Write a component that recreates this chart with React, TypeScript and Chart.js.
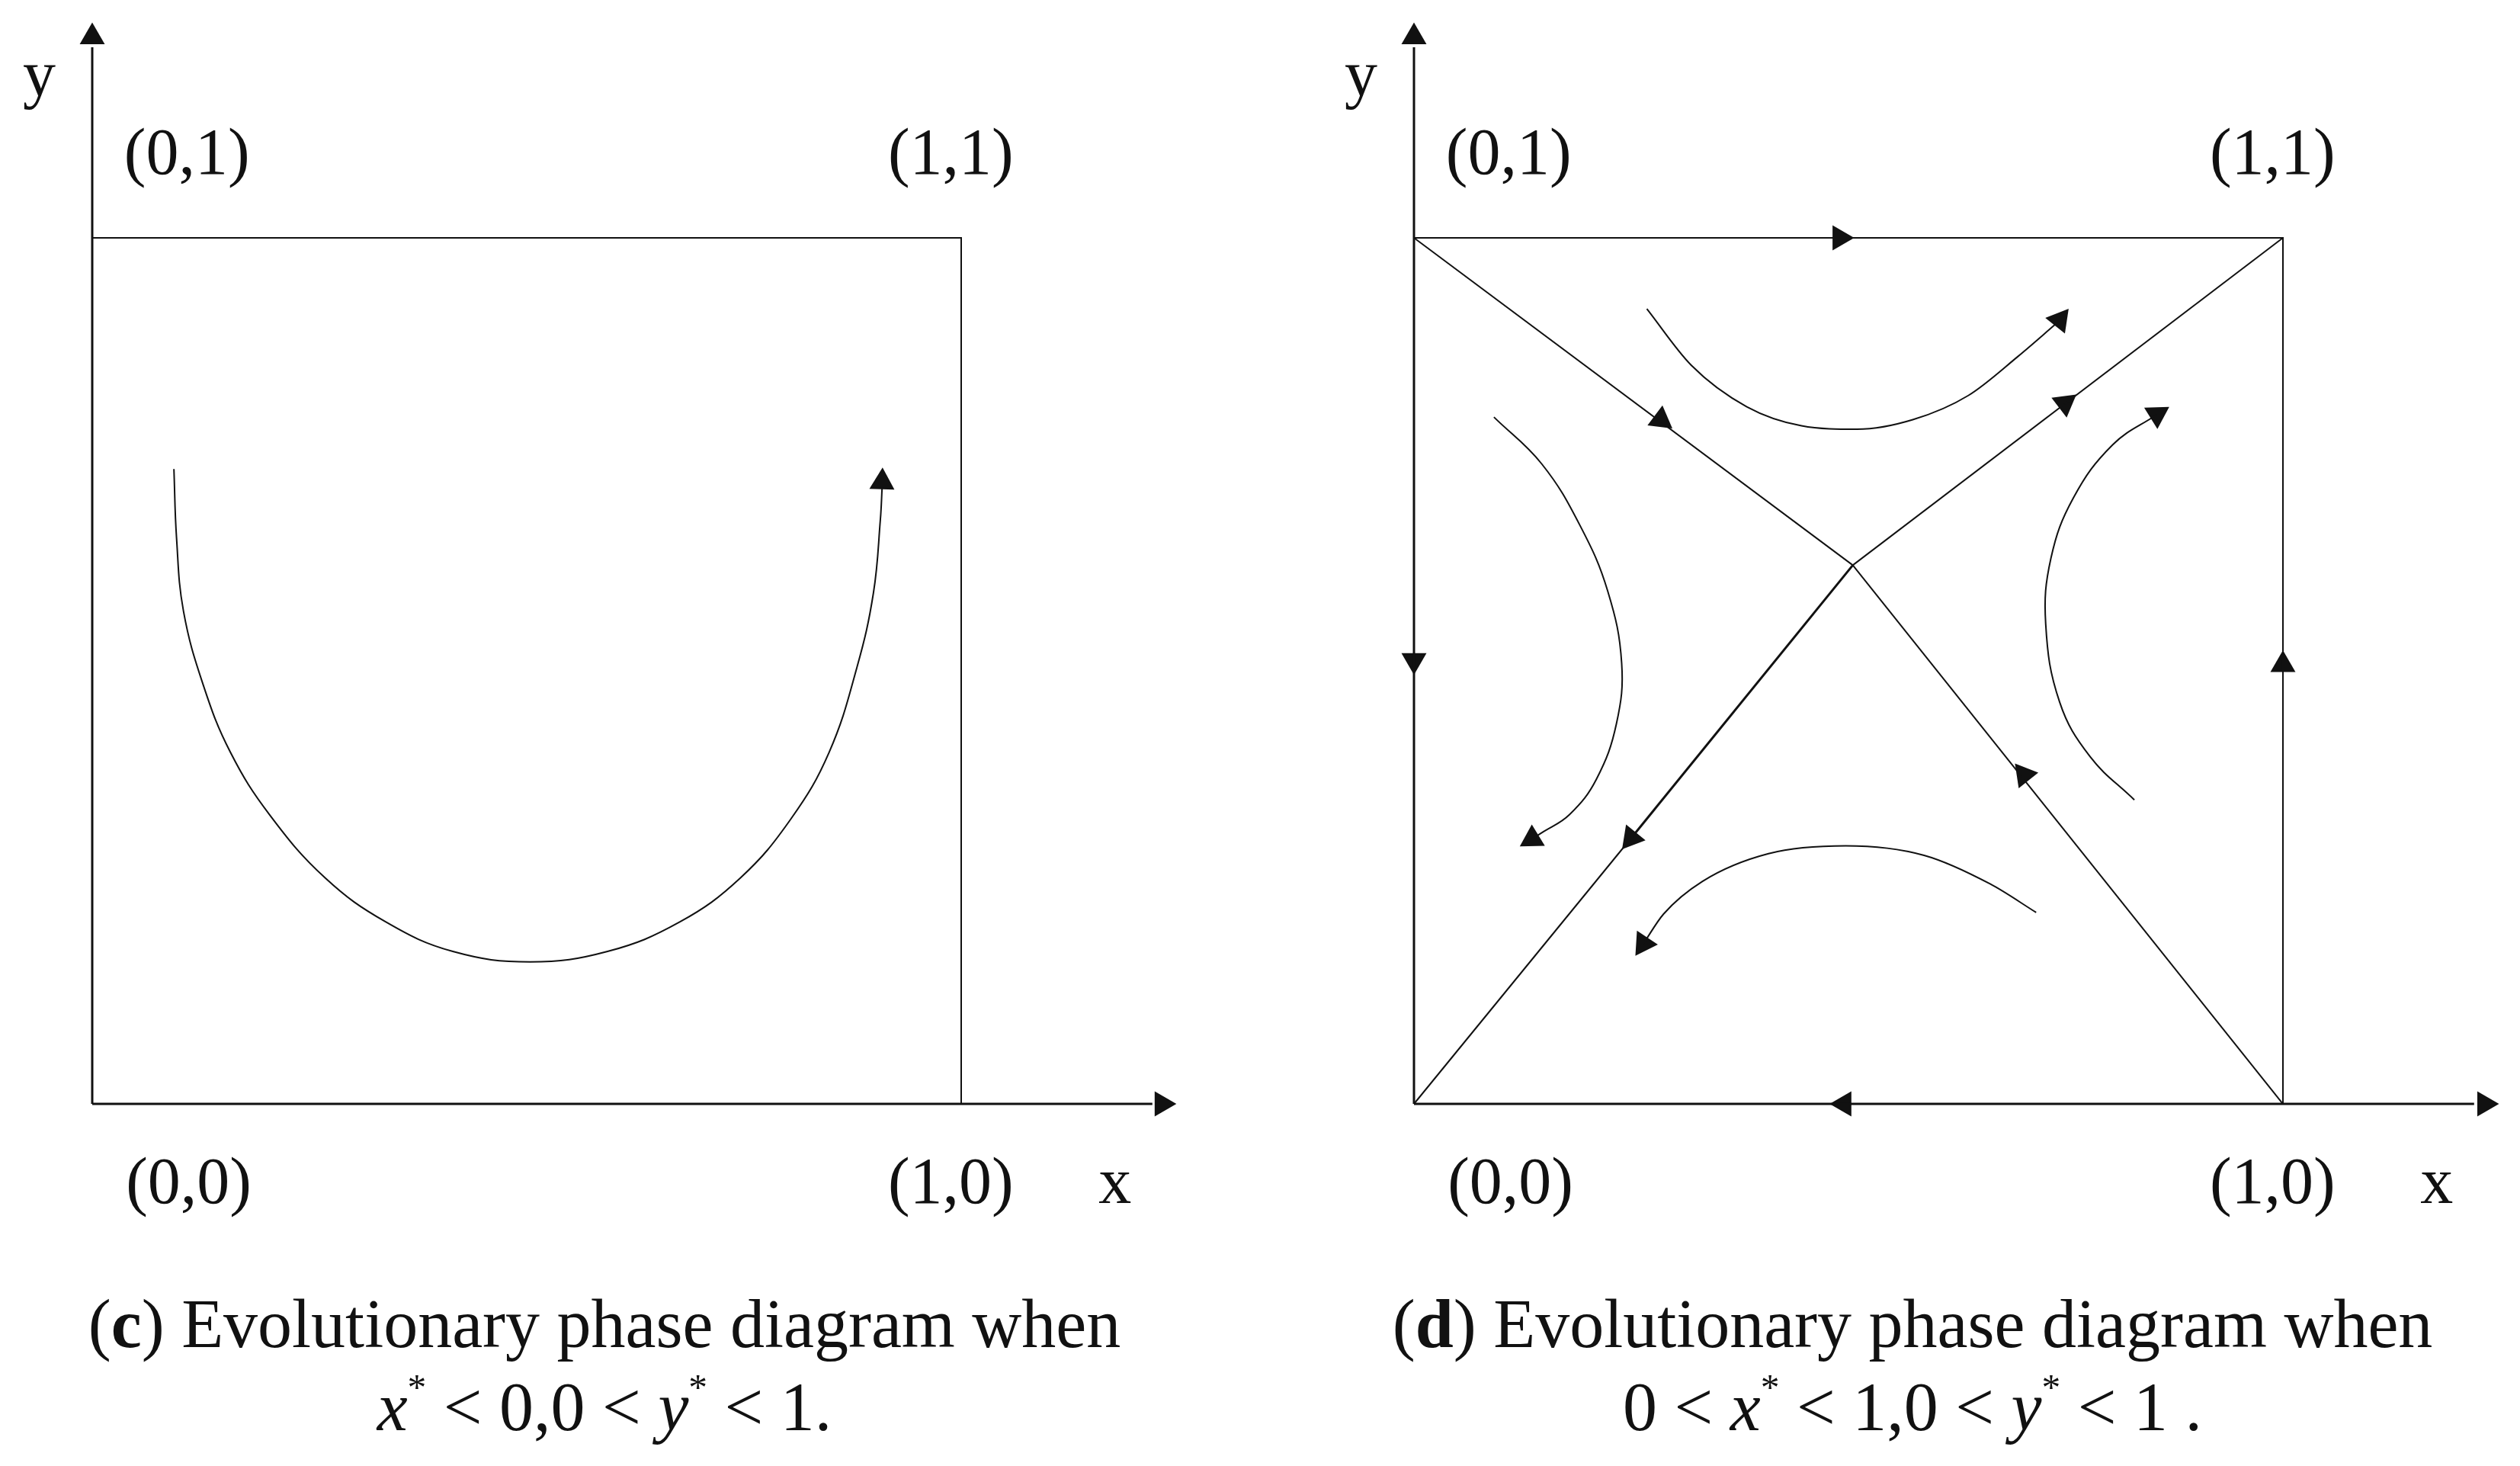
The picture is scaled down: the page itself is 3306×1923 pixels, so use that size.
import { useEffect, useRef } from 'react';
import { Chart, registerables } from 'chart.js';

Chart.register(...registerables);

type Pt = { x: number; y: number };
type Arrow = { x: number; y: number; dx: number; dy: number };

// unit square: (0,0) bottom-left, (1,1) top-right
const pointLabels = ['(0,1)', '(1,1)', '(0,0)', '(1,0)'];
const pointLabelX = [0.109, 0.988, 0.111, 0.988];
const pointLabelY = [1.074, 1.074, -0.114, -0.114];
const axisNames = ['x', 'y'];
const axisNameX = [1.177, -0.061];
const axisNameY = [-0.114, 1.165];

const axisY: Pt[] = [{ x: 0, y: 0 }, { x: 0, y: 1.22 }];
const axisX: Pt[] = [{ x: 0, y: 0 }, { x: 1.22, y: 0 }];
const boxTopRight: Pt[] = [{ x: 0, y: 1 }, { x: 1, y: 1 }, { x: 1, y: 0 }];

// (c) x* < 0
const cCurve: Pt[] = [
  { x: 0.094, y: 0.733 }, { x: 0.097, y: 0.654 }, { x: 0.105, y: 0.569 },
  { x: 0.128, y: 0.483 }, { x: 0.159, y: 0.406 }, { x: 0.204, y: 0.334 },
  { x: 0.268, y: 0.261 }, { x: 0.338, y: 0.21 }, { x: 0.415, y: 0.176 },
  { x: 0.504, y: 0.164 }, { x: 0.593, y: 0.176 }, { x: 0.676, y: 0.21 },
  { x: 0.746, y: 0.261 }, { x: 0.804, y: 0.329 }, { x: 0.848, y: 0.406 },
  { x: 0.88, y: 0.504 }, { x: 0.899, y: 0.59 }, { x: 0.907, y: 0.675 },
  { x: 0.909, y: 0.712 },
];
const cArrows: Arrow[] = [
  { x: 0, y: 1.232, dx: 0, dy: 1 },
  { x: 1.231, y: 0, dx: 1, dy: 0 },
  { x: 0.909, y: 0.718, dx: 0.03, dy: 1 },
];

// (d) saddle at (x*, y*)
const saddle: Pt = { x: 0.505, y: 0.622 };
const dDiagNW: Pt[] = [{ x: 0, y: 1 }, saddle];
const dDiagNE: Pt[] = [saddle, { x: 1, y: 1 }];
const dDiagSWa: Pt[] = [saddle, { x: 0.25, y: 0.307 }];
const dDiagSWb: Pt[] = [{ x: 0.25, y: 0.307 }, { x: 0, y: 0 }];
const dDiagSE: Pt[] = [saddle, { x: 1, y: 0 }];
const dCurveTop: Pt[] = [
  { x: 0.268, y: 0.918 }, { x: 0.319, y: 0.853 }, { x: 0.383, y: 0.805 },
  { x: 0.446, y: 0.783 }, { x: 0.51, y: 0.779 }, { x: 0.574, y: 0.79 },
  { x: 0.638, y: 0.818 }, { x: 0.695, y: 0.863 }, { x: 0.738, y: 0.9 },
];
const dCurveLeft: Pt[] = [
  { x: 0.092, y: 0.793 }, { x: 0.147, y: 0.739 }, { x: 0.191, y: 0.668 },
  { x: 0.223, y: 0.592 }, { x: 0.239, y: 0.509 }, { x: 0.233, y: 0.439 },
  { x: 0.21, y: 0.375 }, { x: 0.179, y: 0.334 }, { x: 0.147, y: 0.313 },
  { x: 0.136, y: 0.306 },
];
const dCurveRight: Pt[] = [
  { x: 0.829, y: 0.351 }, { x: 0.778, y: 0.401 }, { x: 0.743, y: 0.464 },
  { x: 0.727, y: 0.554 }, { x: 0.733, y: 0.63 }, { x: 0.759, y: 0.7 },
  { x: 0.804, y: 0.761 }, { x: 0.855, y: 0.796 },
];
// listed left to right, the arrow sits at the left end
const dCurveBottom: Pt[] = [
  { x: 0.264, y: 0.185 }, { x: 0.287, y: 0.219 }, { x: 0.332, y: 0.257 },
  { x: 0.408, y: 0.289 }, { x: 0.497, y: 0.298 }, { x: 0.587, y: 0.287 },
  { x: 0.663, y: 0.254 }, { x: 0.716, y: 0.221 },
];
const dArrows: Arrow[] = [
  { x: 0, y: 1.232, dx: 0, dy: 1 },
  { x: 1.232, y: 0, dx: 1, dy: 0 },
  { x: 0.49, y: 1, dx: 1, dy: 0 },
  { x: 0.495, y: 0, dx: -1, dy: 0 },
  { x: 0, y: 0.512, dx: 0, dy: -1 },
  { x: 1, y: 0.507, dx: 0, dy: 1 },
  { x: 0.284, y: 0.79, dx: 0.505, dy: -0.378 },
  { x: 0.749, y: 0.809, dx: 0.495, dy: 0.378 },
  { x: 0.25, y: 0.307, dx: -0.505, dy: -0.622 },
  { x: 0.702, y: 0.38, dx: -0.495, dy: 0.622 },
  { x: 0.743, y: 0.905, dx: 0.62, dy: 0.78 },
  { x: 0.136, y: 0.306, dx: -0.85, dy: -0.52 },
  { x: 0.855, y: 0.796, dx: 0.85, dy: 0.53 },
  { x: 0.264, y: 0.185, dx: -0.55, dy: -0.83 },
];

const INK = '#111';
const FONT = '"Liberation Serif", "Times New Roman", serif';
const Y_MIN = -0.17781;
const Y_MAX = 1.27465;
const captionText = 'Evolutionary phase diagram when';

const arrowRotation = (ctx: any) => {
  const a = ctx.raw as Arrow | undefined;
  if (!a) return 0;
  const { x: sx, y: sy } = ctx.chart.scales;
  const px = sx.getPixelForValue(a.x + a.dx) - sx.getPixelForValue(a.x);
  const py = sy.getPixelForValue(a.y + a.dy) - sy.getPixelForValue(a.y);
  return (Math.atan2(px, -py) * 180) / Math.PI;
};

const line = (data: Pt[], width = 2, smooth: '' | 'monotone' | 'bezier' = '') => ({
  data,
  borderColor: INK,
  borderWidth: width,
  pointRadius: 0,
  tension: smooth === 'bezier' ? 0.4 : 0,
  cubicInterpolationMode: smooth === 'monotone' ? 'monotone' : 'default',
  fill: false,
});

const arrows = (data: Arrow[]) => ({
  data,
  showLine: false,
  pointStyle: 'triangle',
  pointRadius: 19,
  pointBackgroundColor: INK,
  pointBorderWidth: 0,
  pointRotation: arrowRotation,
});

const labelPlugin = {
  id: 'phaseLabels',
  afterDatasetsDraw(chart: any) {
    const { ctx, scales } = chart;
    const sx = scales.x;
    const sy = scales.y;
    ctx.save();
    ctx.fillStyle = INK;
    ctx.font = `86px ${FONT}`;
    ctx.textAlign = 'center';
    ctx.textBaseline = 'alphabetic';
    pointLabels.forEach((t, i) => {
      ctx.fillText(t, sx.getPixelForValue(pointLabelX[i]), sy.getPixelForValue(pointLabelY[i]));
    });
    axisNames.forEach((t, i) => {
      ctx.fillText(t, sx.getPixelForValue(axisNameX[i]), sy.getPixelForValue(axisNameY[i]));
    });
    ctx.restore();
  },
};

function PhaseChart({ datasets, xMin, xMax, left }: { datasets: any[]; xMin: number; xMax: number; left: number }) {
  const canvasRef = useRef<HTMLCanvasElement>(null);

  useEffect(() => {
    if (!canvasRef.current) return;
    const chart = new Chart(canvasRef.current, {
      type: 'line',
      data: { datasets },
      options: {
        animation: false,
        responsive: true,
        maintainAspectRatio: false,
        events: [],
        layout: { padding: 0, autoPadding: false },
        plugins: { legend: { display: false }, tooltip: { enabled: false } },
        scales: {
          x: { type: 'linear', min: xMin, max: xMax, display: false },
          y: { type: 'linear', min: Y_MIN, max: Y_MAX, display: false },
        },
      } as any,
      plugins: [labelPlugin],
    });
    return () => chart.destroy();
  }, []);

  return (
    <div style={{ position: 'absolute', left, top: 0, width: 1653, height: 1650 }}>
      <canvas ref={canvasRef} />
    </div>
  );
}

const supStyle = { fontSize: '0.55em', verticalAlign: '0.8em', lineHeight: 0 };

function Caption({ tag, left, width, children }: { tag: string; left: number; width: number; children: any }) {
  return (
    <div
      style={{
        position: 'absolute',
        left,
        top: 1682,
        width,
        textAlign: 'center',
        fontFamily: FONT,
        fontSize: 90,
        lineHeight: '109px',
        color: INK,
        whiteSpace: 'nowrap',
      }}
    >
      (<b>{tag}</b>) {captionText}
      <br />
      {children}
    </div>
  );
}

export default function App() {
  const cSets = [
    line(axisY, 3),
    line(axisX, 3),
    line(boxTopRight, 2),
    line(cCurve, 2, 'bezier'),
    arrows(cArrows),
  ];
  const dSets = [
    line(axisY, 3),
    line(axisX, 3),
    line(boxTopRight, 2),
    line(dDiagNW, 2),
    line(dDiagNE, 2),
    line(dDiagSWa, 3),
    line(dDiagSWb, 2),
    line(dDiagSE, 2),
    line(dCurveTop, 2, 'monotone'),
    line(dCurveLeft, 2, 'bezier'),
    line(dCurveRight, 2, 'bezier'),
    line(dCurveBottom, 2, 'monotone'),
    arrows(dArrows),
  ];

  return (
    <div style={{ position: 'fixed', left: 0, top: 0, width: 3306, height: 1923, background: '#fff', overflow: 'hidden' }}>
      <PhaseChart datasets={cSets} xMin={-0.10614} xMax={1.34386} left={0} />
      <PhaseChart datasets={dSets} xMin={-0.17719} xMax={1.27281} left={1653} />
      <Caption tag="c" left={0} width={1586}>
        <i>x</i>
        <sup style={supStyle}>*</sup> &lt; 0,0 &lt; <i>y</i>
        <sup style={supStyle}>*</sup> &lt; 1.
      </Caption>
      <Caption tag="d" left={1712} width={1594}>
        0 &lt; <i>x</i>
        <sup style={supStyle}>*</sup> &lt; 1,0 &lt; <i>y</i>
        <sup style={supStyle}>*</sup> &lt; 1 .
      </Caption>
    </div>
  );
}
